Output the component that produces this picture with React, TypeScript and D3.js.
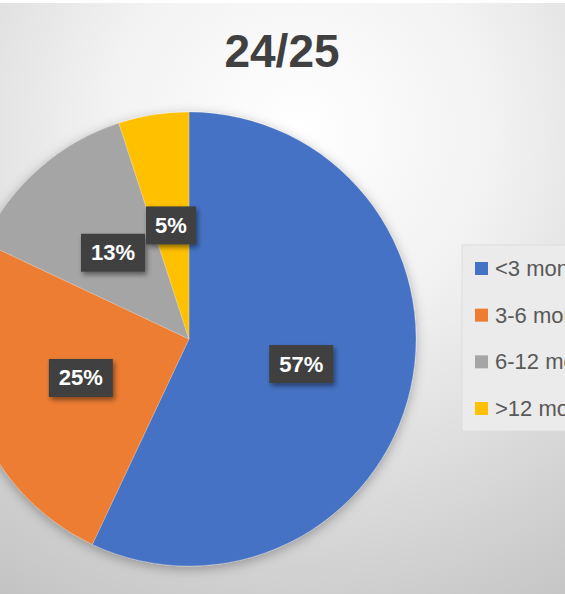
import { useMemo } from "react";
import * as d3 from "d3";

/* ------------------------------------------------------------------ */
/*  Data                                                              */
/* ------------------------------------------------------------------ */

const TITLE = "24/25";
const CATEGORIES = ["<3 months", "3-6 months", "6-12 months", ">12 months"];
const SHARES = [57, 25, 13, 5];
const COLORS = ["#4472c4", "#ed7d31", "#a5a5a5", "#ffc000"];

/* ------------------------------------------------------------------ */
/*  Layout                                                            */
/* ------------------------------------------------------------------ */

const W = 565;
const H = 594;
const CX = 189;
const CY = 339;
const R = 227;
const LABEL_R = 115;

const FONT = "'Liberation Sans', Arial, sans-serif";

export default function App() {
  const slices = useMemo(
    () =>
      d3
        .pie<number>()
        .sort(null)
        .value((d) => d)(SHARES),
    [],
  );

  const arc = d3.arc<d3.PieArcDatum<number>>().innerRadius(0).outerRadius(R);
  const labelArc = d3
    .arc<d3.PieArcDatum<number>>()
    .innerRadius(LABEL_R)
    .outerRadius(LABEL_R);

  // legend rows
  const legendY = d3
    .scalePoint<string>()
    .domain(CATEGORIES)
    .range([268, 408]);

  return (
    <svg
      width={W}
      height={H}
      style={{ position: "absolute", left: 0, top: 0, display: "block" }}
    >
      <defs>
        <radialGradient id="bg" cx="300" cy="130" r="560" gradientUnits="userSpaceOnUse">
          <stop offset="0" stopColor="#ffffff" />
          <stop offset="0.35" stopColor="#f2f2f2" />
          <stop offset="1" stopColor="#c2c2c2" />
        </radialGradient>
        <filter id="pieShadow" x="-20%" y="-20%" width="140%" height="140%">
          <feDropShadow dx="0" dy="3" stdDeviation="6" floodColor="#000" floodOpacity="0.3" />
        </filter>
        <filter id="boxShadow" x="-30%" y="-30%" width="160%" height="160%">
          <feDropShadow dx="2" dy="3" stdDeviation="2.5" floodColor="#000" floodOpacity="0.45" />
        </filter>
      </defs>

      {/* background */}
      <rect x={0} y={0} width={W} height={H} fill="url(#bg)" />
      <rect x={0} y={0} width={W} height={3} fill="#ffffff" />

      {/* title */}
      <text
        x={282}
        y={67}
        textAnchor="middle"
        fontFamily={FONT}
        fontWeight="bold"
        fontSize={46}
        fill="#404040"
      >
        {TITLE}
      </text>

      {/* pie */}
      <g transform={`translate(${CX},${CY})`}>
        <g filter="url(#pieShadow)">
          {slices.map((s, i) => (
            <path
              key={CATEGORIES[i]}
              d={arc(s) ?? ""}
              fill={COLORS[i]}
              stroke="#ffffff"
              strokeOpacity={0.35}
              strokeWidth={0.6}
            />
          ))}
        </g>

        {slices.map((s, i) => {
          const [lx, ly] = labelArc.centroid(s);
          const label = `${SHARES[i]}%`;
          const bw = label.length * 14 + 22;
          const bh = 38;
          return (
            <g key={`lbl-${i}`} transform={`translate(${lx},${ly})`}>
              <rect
                x={-bw / 2}
                y={-bh / 2}
                width={bw}
                height={bh}
                fill="#404040"
                filter="url(#boxShadow)"
              />
              <text
                x={0}
                y={7.5}
                textAnchor="middle"
                fontFamily={FONT}
                fontWeight="bold"
                fontSize={22}
                fill="#ffffff"
              >
                {label}
              </text>
            </g>
          );
        })}
      </g>

      {/* legend */}
      <rect
        x={462}
        y={245}
        width={120}
        height={186}
        fill="#ebebeb"
        stroke="#dedede"
        strokeWidth={1}
      />
      {CATEGORIES.map((c, i) => {
        const y = legendY(c) ?? 0;
        return (
          <g key={`leg-${c}`}>
            <rect x={475} y={y - 6} width={13} height={13} fill={COLORS[i]} />
            <text
              x={495}
              y={y + 8}
              fontFamily={FONT}
              fontSize={22}
              fill="#595959"
            >
              {c}
            </text>
          </g>
        );
      })}
    </svg>
  );
}
